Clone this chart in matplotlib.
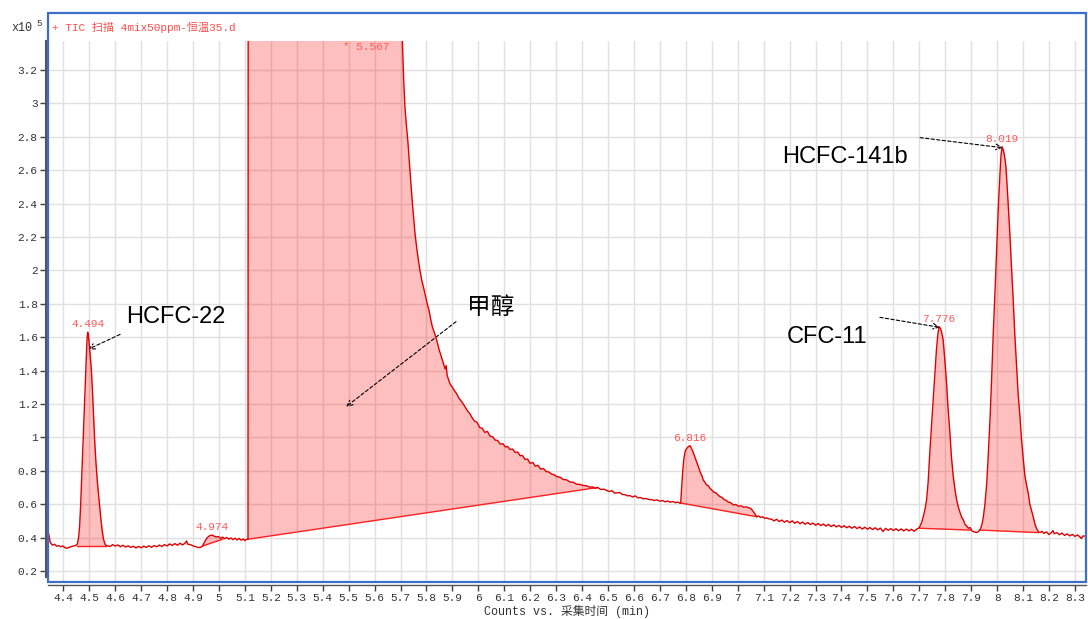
import numpy as np
import matplotlib
matplotlib.use("Agg")
import matplotlib.pyplot as plt
from matplotlib.patches import Rectangle

# TIC trace, retention time (min) vs counts (x10^5)
time_min = [
    4.341, 4.344, 4.350, 4.358, 4.366, 4.374, 4.382, 4.390, 4.398, 4.406, 4.414, 4.422, 4.430, 4.438, 4.446, 4.450,
    4.454, 4.459, 4.463, 4.467, 4.471, 4.475, 4.479, 4.483, 4.487, 4.490, 4.492, 4.494,
    4.497, 4.501, 4.505, 4.509, 4.513, 4.517, 4.521, 4.525, 4.530, 4.535, 4.540, 4.545, 4.550, 4.555, 4.561, 4.566,
    4.57, 4.58, 4.59, 4.60, 4.61, 4.62, 4.63, 4.64, 4.65, 4.66, 4.67, 4.68, 4.69, 4.70, 4.71, 4.72, 4.73, 4.74, 4.75, 4.76,
    4.77, 4.78, 4.79, 4.80, 4.81, 4.82, 4.83, 4.84, 4.85, 4.86, 4.87, 4.875, 4.88, 4.89, 4.90, 4.91, 4.92, 4.93,
    4.937, 4.945, 4.955, 4.965, 4.974, 4.982, 4.990, 4.998, 5.006, 5.014, 5.022, 5.030, 5.038, 5.046, 5.054, 5.062,
    5.070, 5.078, 5.086, 5.094, 5.100, 5.106, 5.112,
    5.113, 5.300, 5.567, 5.650, 5.690, 5.700,
    5.707, 5.712, 5.717, 5.722, 5.728, 5.733, 5.737, 5.741, 5.746, 5.751, 5.756, 5.762, 5.769, 5.775, 5.782, 5.790,
    5.797, 5.803, 5.810, 5.816,
    5.823, 5.830, 5.836, 5.840, 5.848, 5.856, 5.864, 5.872, 5.876, 5.880, 5.891, 5.900, 5.908, 5.917, 5.925, 5.933,
    5.942, 5.950, 5.958, 5.968,
    5.975, 5.985, 5.995, 6.006, 6.015, 6.025, 6.035, 6.045, 6.055, 6.065, 6.075, 6.084, 6.095, 6.105, 6.113, 6.122,
    6.132, 6.142, 6.152, 6.161,
    6.170, 6.180, 6.190, 6.199, 6.210, 6.220, 6.230, 6.240, 6.251, 6.262, 6.272, 6.282, 6.292, 6.302, 6.315, 6.327,
    6.340, 6.353, 6.366, 6.379,
    6.392, 6.405, 6.418, 6.430, 6.440, 6.450, 6.460, 6.472, 6.485, 6.495, 6.505, 6.515, 6.525, 6.535, 6.545, 6.555,
    6.565, 6.575, 6.585, 6.595,
    6.605, 6.615, 6.625, 6.636, 6.647, 6.657, 6.668, 6.678, 6.688, 6.700, 6.710, 6.720, 6.730, 6.739, 6.750, 6.760,
    6.770, 6.776, 6.780,
    6.784, 6.788, 6.793, 6.798, 6.804, 6.810, 6.816, 6.821,
    6.826, 6.832, 6.840, 6.848, 6.856, 6.862, 6.867, 6.874, 6.880, 6.887, 6.893, 6.900, 6.908, 6.916, 6.924, 6.932,
    6.940, 6.948, 6.956, 6.964,
    6.972, 6.983, 6.993, 7.003, 7.013, 7.023, 7.033, 7.043, 7.050, 7.058, 7.065, 7.073, 7.080, 7.088, 7.096, 7.104,
    7.112, 7.120,
    7.13, 7.14, 7.15, 7.16, 7.17, 7.18, 7.19, 7.20, 7.21, 7.22, 7.23, 7.24, 7.25, 7.26, 7.27, 7.28, 7.29, 7.30, 7.31,
    7.32, 7.33, 7.34, 7.35, 7.36, 7.37, 7.38, 7.39, 7.40, 7.41,
    7.42, 7.43, 7.44, 7.45, 7.46, 7.47, 7.48, 7.49, 7.50, 7.51, 7.52, 7.53, 7.54, 7.55, 7.56, 7.57, 7.58, 7.59, 7.60,
    7.61, 7.62, 7.63, 7.64, 7.65, 7.66, 7.67, 7.68, 7.69, 7.695,
    7.700, 7.709, 7.716, 7.722, 7.728, 7.734, 7.741, 7.748, 7.754, 7.760, 7.766, 7.771, 7.776, 7.781, 7.786, 7.792,
    7.798, 7.805, 7.811, 7.818,
    7.824, 7.831, 7.838, 7.844, 7.850, 7.858, 7.864, 7.870, 7.876, 7.882, 7.889, 7.896, 7.903, 7.910, 7.916, 7.921,
    7.927, 7.933,
    7.938, 7.943, 7.947, 7.953, 7.960, 7.966, 7.973, 7.979, 7.985, 7.992, 7.998, 8.004, 8.011, 8.015, 8.019,
    8.024, 8.029, 8.034, 8.041, 8.049, 8.055, 8.062, 8.068, 8.075, 8.081, 8.088, 8.094, 8.101, 8.107, 8.114, 8.120,
    8.126, 8.133, 8.139, 8.146, 8.152, 8.159, 8.166, 8.173,
    8.18, 8.19, 8.20, 8.21, 8.215, 8.22, 8.23, 8.24, 8.25, 8.26, 8.27, 8.28, 8.29, 8.30, 8.31, 8.32, 8.325, 8.33, 8.343,
]
counts = [
    0.44, 0.42, 0.37, 0.355, 0.36, 0.348, 0.352, 0.345, 0.35, 0.34, 0.336, 0.342, 0.345, 0.35, 0.352, 0.355,
    0.36, 0.40, 0.47, 0.60, 0.76, 0.92, 1.08, 1.25, 1.42, 1.53, 1.60, 1.63,
    1.61, 1.54, 1.47, 1.38, 1.26, 1.12, 0.98, 0.87, 0.76, 0.67, 0.59, 0.51, 0.44, 0.39, 0.36, 0.352,
    0.352, 0.346, 0.358, 0.349, 0.356, 0.345, 0.354, 0.343, 0.351, 0.341, 0.348, 0.338, 0.347, 0.339, 0.349, 0.341,
    0.351, 0.342, 0.352, 0.345,
    0.355, 0.347, 0.358, 0.350, 0.362, 0.353, 0.364, 0.354, 0.366, 0.356, 0.368, 0.380, 0.360, 0.358, 0.350, 0.346,
    0.340, 0.342,
    0.350, 0.375, 0.400, 0.412, 0.415, 0.408, 0.404, 0.406, 0.396, 0.403, 0.393, 0.401, 0.390, 0.398, 0.388, 0.396,
    0.386, 0.395, 0.384, 0.392, 0.382, 0.389, 0.390,
    5.2, 9.0, 9.8, 7.5, 4.6, 3.75,
    3.38, 3.15, 2.98, 2.88, 2.78, 2.67, 2.58, 2.50, 2.40, 2.31, 2.22, 2.14, 2.06, 2.00, 1.94, 1.89,
    1.84, 1.80, 1.76, 1.71,
    1.66, 1.63, 1.60, 1.58, 1.53, 1.49, 1.45, 1.41, 1.43, 1.37, 1.32, 1.30, 1.28, 1.26, 1.235, 1.22,
    1.20, 1.18, 1.16, 1.14,
    1.12, 1.098, 1.09, 1.058, 1.055, 1.03, 1.036, 1.008, 1.004, 0.984, 0.981, 0.96, 0.962, 0.942, 0.946, 0.928,
    0.93, 0.91, 0.912, 0.89,
    0.892, 0.868, 0.87, 0.845, 0.85, 0.827, 0.833, 0.81, 0.814, 0.795, 0.793, 0.78, 0.777, 0.765, 0.762, 0.748,
    0.746, 0.733, 0.731, 0.72,
    0.718, 0.712, 0.710, 0.702, 0.704, 0.695, 0.700, 0.688, 0.690, 0.682, 0.676, 0.681, 0.666, 0.668, 0.670, 0.658,
    0.657, 0.650, 0.651, 0.643,
    0.650, 0.638, 0.640, 0.632, 0.634, 0.628, 0.627, 0.622, 0.626, 0.618, 0.622, 0.614, 0.619, 0.612, 0.616, 0.609,
    0.613, 0.606, 0.607,
    0.70, 0.80, 0.88, 0.92, 0.935, 0.945, 0.95, 0.935,
    0.92, 0.895, 0.86, 0.825, 0.79, 0.77, 0.745, 0.73, 0.715, 0.71, 0.695, 0.685, 0.672, 0.668, 0.655, 0.645,
    0.64, 0.628, 0.622, 0.612,
    0.610, 0.595, 0.598, 0.588, 0.590, 0.582, 0.584, 0.578, 0.575, 0.560, 0.545, 0.525, 0.530, 0.520, 0.525, 0.515,
    0.518, 0.512,
    0.510, 0.500, 0.510, 0.496, 0.505, 0.492, 0.502, 0.490, 0.500, 0.486, 0.496, 0.483, 0.493, 0.480, 0.490, 0.478,
    0.487, 0.474, 0.484, 0.472, 0.481, 0.469, 0.479, 0.466, 0.476, 0.464, 0.473, 0.461, 0.471,
    0.459, 0.468, 0.456, 0.466, 0.454, 0.464, 0.451, 0.462, 0.450, 0.460, 0.448, 0.459, 0.446, 0.457, 0.436, 0.455,
    0.444, 0.454, 0.442, 0.453, 0.441, 0.452, 0.440, 0.451, 0.440, 0.450, 0.438, 0.450, 0.455,
    0.46, 0.49, 0.53, 0.57, 0.625, 0.73, 0.925, 1.09, 1.224, 1.38, 1.523, 1.61, 1.663, 1.655, 1.63, 1.583,
    1.47, 1.326, 1.17, 1.024,
    0.88, 0.765, 0.68, 0.625, 0.585, 0.545, 0.52, 0.505, 0.48, 0.47, 0.456, 0.46, 0.44, 0.435, 0.432, 0.43,
    0.435, 0.445,
    0.46, 0.49, 0.525, 0.60, 0.725, 0.90, 1.124, 1.36, 1.623, 1.88, 2.122, 2.36, 2.581, 2.69, 2.741,
    2.72, 2.68, 2.621, 2.44, 2.222, 2.03, 1.823, 1.62, 1.423, 1.26, 1.124, 0.99, 0.865, 0.77, 0.71, 0.665,
    0.60, 0.56, 0.525, 0.48, 0.455, 0.435, 0.43, 0.438,
    0.425, 0.434, 0.418, 0.431, 0.442, 0.423, 0.430, 0.417, 0.427, 0.413, 0.422, 0.410, 0.419, 0.407, 0.416, 0.403,
    0.394, 0.409, 0.410,
]

# integration events: start/end time and baseline level at each end
peak_start = [4.454, 4.937, 5.112, 6.780, 7.700, 7.933]
peak_end = [4.566, 5.014, 6.460, 7.073, 7.896, 8.159]
base_start = [0.350, 0.350, 0.390, 0.607, 0.456, 0.445]
base_end = [0.350, 0.390, 0.700, 0.525, 0.445, 0.430]

# retention time labels
peak_rt = [4.494, 4.974, 5.567, 6.816, 7.776, 8.019]
saturated = [False, False, True, False, False, False]

# compound names: text, text anchor, arrow tail, arrow head
compounds = ["HCFC-22", "甲醇", "CFC-11", "HCFC-141b"]
name_xy = [(4.644, 1.683), (5.955, 1.74), (7.189, 1.567), (7.170, 2.641)]
arrow_from = [(4.619, 1.617), (5.914, 1.693), (7.548, 1.719), (7.703, 2.795)]
arrow_to = [(4.496, 1.528), (5.490, 1.184), (7.779, 1.659), (8.021, 2.735)]

x_ticks = np.round(np.arange(4.4, 8.31, 0.1), 1)
y_ticks = np.round(np.arange(0.2, 3.21, 0.2), 1)

t = np.array(time_min)
c = np.array(counts)
assert len(t) == len(c)

MONO = ["Liberation Mono", "Noto Sans CJK SC"]
plt.rcParams["font.family"] = MONO

W, H = 1088, 619
RED = "#e00000"
LABEL_RED = "#ff5a5a"
GREY = "#404040"

fig = plt.figure(figsize=(W / 100, H / 100), dpi=100)
ax = fig.add_axes([48 / W, 1 - 582 / H, (1086 - 48) / W, (582 - 41) / H])
xlim = (4.341, 8.3426)
ylim = (0.134, 3.374)
ax.set_xlim(*xlim)
ax.set_ylim(*ylim)

ax.set_axisbelow(True)
ax.grid(True, color="#e0e0e0", lw=1.0)

# filled peak areas above the drawn baselines
for s, e, b0, b1 in zip(peak_start, peak_end, base_start, base_end):
    m = (t >= s - 1e-9) & (t <= e + 1e-9)
    base = np.interp(t[m], [s, e], [b0, b1])
    ax.fill_between(t[m], base, c[m], color="red", alpha=0.25, lw=0, zorder=2)
    ax.plot([s, e], [b0, b1], color="#ff2020", lw=1.0, zorder=3)

ax.plot(t, c, color=RED, lw=1.0, zorder=4)

# retention time labels
for rt, sat in zip(peak_rt, saturated):
    apex = np.interp(rt, t, c)
    if sat or apex > ylim[1]:
        ax.annotate("* %.3f" % rt, xy=(rt, ylim[1]), xytext=(0, -1), textcoords="offset points",
                    ha="center", va="top", color=LABEL_RED, fontsize=8)
    else:
        ax.annotate("%.3f" % rt, xy=(rt, apex), xytext=(0, 2), textcoords="offset points",
                    ha="center", va="bottom", color=LABEL_RED, fontsize=8)

# compound names with dashed pointers
for name, xy, a0, a1 in zip(compounds, name_xy, arrow_from, arrow_to):
    ax.text(xy[0], xy[1], name, fontsize=17, va="baseline", ha="left", color="black",
            family=["Liberation Sans", "Noto Sans CJK SC"])
    ax.annotate("", xy=a1, xytext=a0,
                arrowprops=dict(arrowstyle="->", ls=(0, (3, 2)), lw=0.8, color="black",
                                shrinkA=0, shrinkB=0))

def fmt(v):
    return "%g" % v

ax.set_xticks(x_ticks)
ax.set_xticklabels([fmt(v) for v in x_ticks])
ax.set_yticks(y_ticks)
ax.set_yticklabels([fmt(v) for v in y_ticks])
ax.tick_params(axis="both", direction="out", length=4, width=1, color=GREY, labelcolor="#333333", labelsize=8)
ax.tick_params(axis="y", pad=2)
ax.tick_params(axis="x", pad=2)

for side in ("top", "right"):
    ax.spines[side].set_visible(False)
ax.spines["left"].set_position(("outward", 1.5))
ax.spines["left"].set_color("#555555")
ax.spines["left"].set_linewidth(1.5)
ax.spines["left"].set_bounds(0.164, ylim[1])
ax.spines["bottom"].set_position(("outward", 2.2))
ax.spines["bottom"].set_color("#555555")
ax.spines["bottom"].set_linewidth(1.0)

# blue frame around plot and title strip
fig.add_artist(Rectangle((47.7 / W, 1 - 582 / H), (1086 - 47.7) / W, (582 - 13) / H,
                         transform=fig.transFigure, fill=False, edgecolor="#3b6fca", lw=1.6))

fig.text(52 / W, 1 - 27 / H, "+ TIC 扫描 4mix50ppm-恒温35.d", color="#ff4b4b", fontsize=8,
         va="center", ha="left")
fig.text(11 / W, 1 - 28 / H, "x10", color="#333333", fontsize=8.5, va="center", ha="left")
fig.text(36 / W, 1 - 23 / H, "5", color="#333333", fontsize=6.5, va="center", ha="left")
fig.text(567 / W, 1 - 611 / H, "Counts vs. 采集时间 (min)", color="#333333", fontsize=8.5,
         va="center", ha="center")

fig.savefig("out.png", dpi=100)
